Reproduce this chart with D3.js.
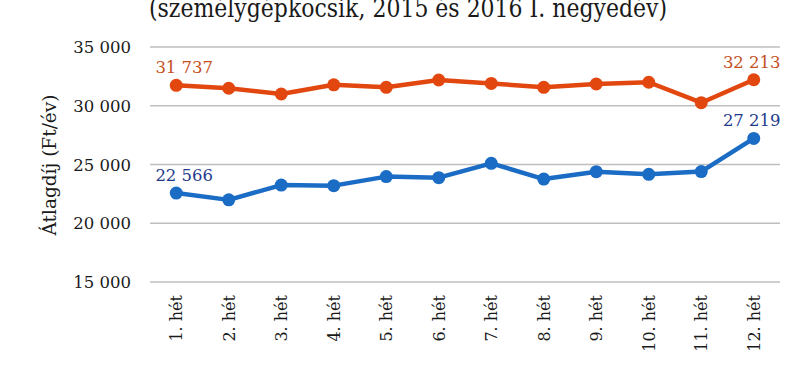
<!DOCTYPE html>
<html>
<head>
<meta charset="utf-8">
<script src="https://cdn.jsdelivr.net/npm/d3@7"></script>
<style>
  body { margin: 0; background: #fff; }
  svg { display: block; font-family: 'DejaVu Serif', serif; }
</style>
</head>
<body>
<svg class="js-chart" width="800" height="370"></svg>
<script>
var weeks = ['1. hét', '2. hét', '3. hét', '4. hét', '5. hét', '6. hét',
             '7. hét', '8. hét', '9. hét', '10. hét', '11. hét', '12. hét'],
    fees2016 = [31737, 31490, 31000, 31780, 31570, 32190, 31900, 31570, 31850, 32000, 30260, 32213],
    fees2015 = [22566, 21990, 23250, 23200, 23970, 23880, 25100, 23760, 24390, 24160, 24400, 27219],
    yTicks = [15000, 20000, 25000, 30000, 35000],
    titleText = '(személygépkocsik, 2015 és 2016 I. negyedév)',
    yTitle = 'Átlagdíj (Ft/év)';

var svg = d3.select('.js-chart'),
    plotLeft = 150, plotRight = 780, plotTop = 47, plotBottom = 282;

var x = d3.scaleBand().domain(weeks).range([plotLeft, plotRight]),
    y = d3.scaleLinear().domain([15000, 35000]).range([plotBottom, plotTop]);

var fmt = function(v) { return d3.format(',')(v).replace(/,/g, ' '); };
var cx = function(i) { return x(weeks[i]) + x.bandwidth() / 2; };

// title (top cut off, as in the source)
svg.append('text')
    .attr('x', 408).attr('y', 17)
    .attr('text-anchor', 'middle')
    .attr('font-size', 26)
    .attr('fill', '#1a1a1a')
    .attr('textLength', 518)
    .attr('lengthAdjust', 'spacingAndGlyphs')
    .text(titleText);

// grid
svg.append('g').selectAll('line')
    .data(yTicks)
    .enter()
    .append('line')
    .attr('x1', plotLeft).attr('x2', plotRight)
    .attr('y1', function(d) { return y(d); })
    .attr('y2', function(d) { return y(d); })
    .attr('stroke', '#bfbfbf')
    .attr('stroke-width', 1.5);

// y tick labels
svg.append('g').selectAll('text')
    .data(yTicks)
    .enter()
    .append('text')
    .attr('x', 131)
    .attr('y', function(d) { return y(d) + 6; })
    .attr('text-anchor', 'end')
    .attr('font-size', 16.5)
    .attr('fill', '#1a1a1a')
    .text(fmt);

// y axis title
svg.append('text')
    .attr('transform', 'translate(56,165) rotate(-90)')
    .attr('text-anchor', 'middle')
    .attr('font-size', 18.5)
    .attr('fill', '#1a1a1a')
    .text(yTitle);

// x labels
svg.append('g').selectAll('text')
    .data(weeks)
    .enter()
    .append('text')
    .attr('transform', function(d, i) {
      return 'translate(' + (cx(i) + 6) + ',295) rotate(-90)';
    })
    .attr('text-anchor', 'end')
    .attr('font-size', 16)
    .attr('fill', '#1a1a1a')
    .text(function(d) { return d; });

var series = [
  { values: fees2016, line: '#e2470f', label: '#c4511d' },
  { values: fees2015, line: '#1a6cc4', label: '#1f3c8c' }
];

var line = d3.line()
    .x(function(d, i) { return cx(i); })
    .y(function(d) { return y(d); });

series.forEach(function(s) {
  var g = svg.append('g');
  g.append('path')
      .datum(s.values)
      .attr('d', line)
      .attr('fill', 'none')
      .attr('stroke', s.line)
      .attr('stroke-width', 4.5)
      .attr('stroke-linejoin', 'round');
  g.selectAll('circle')
      .data(s.values)
      .enter()
      .append('circle')
      .attr('cx', function(d, i) { return cx(i); })
      .attr('cy', function(d) { return y(d); })
      .attr('r', 6.5)
      .attr('fill', s.line);
  // labels on first and last point only
  var last = s.values.length - 1;
  [0, last].forEach(function(i) {
    g.append('text')
        .attr('x', cx(i) + (i === 0 ? 8 : -2))
        .attr('y', y(s.values[i]) - 12)
        .attr('text-anchor', 'middle')
        .attr('font-size', 16.5)
        .attr('fill', s.label)
        .text(fmt(s.values[i]));
  });
});
</script>
</body>
</html>
